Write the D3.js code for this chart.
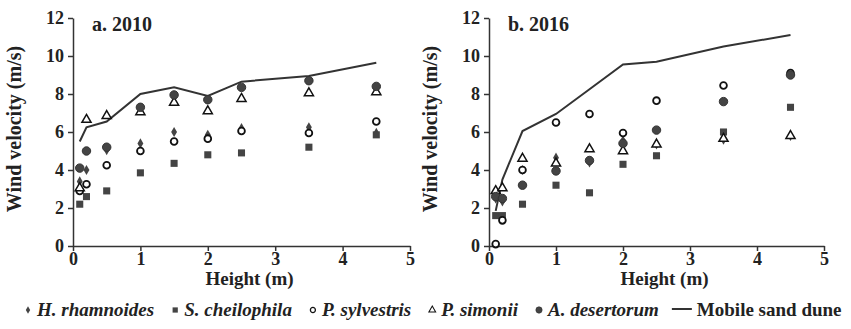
<!DOCTYPE html>
<html>
<head>
<meta charset="utf-8">
<script src="https://cdn.jsdelivr.net/npm/d3@7"></script>
<style>
  body { margin: 0; background: #fff; }
</style>
</head>
<body>
<figure id="chart" style="margin:0"></figure>
<script>
// heights where wind speed was measured (m)
const heights = [0.1, 0.2, 0.5, 1, 1.5, 2, 2.5, 3.5, 4.5];

// a. 2010
const rhamnoides2010 = [3.4, 4.0, 5.05, 5.4, 6.0, 5.85, 6.2, 6.25, 5.95];
const cheilophila2010 = [2.2, 2.6, 2.9, 3.85, 4.35, 4.8, 4.9, 5.2, 5.85];
const sylvestris2010 = [2.9, 3.25, 4.25, 5.0, 5.5, 5.65, 6.05, 5.95, 6.55];
const simonii2010 = [3.05, 6.65, 6.85, 7.05, 7.55, 7.1, 7.75, 8.05, 8.1];
const desertorum2010 = [4.1, 5.0, 5.2, 7.3, 7.95, 7.7, 8.35, 8.7, 8.4];
const dune2010 = [5.5, 6.25, 6.55, 8.0, 8.35, 7.9, 8.65, 8.95, 9.65];

// b. 2016
const rhamnoides2016 = [2.5, 2.35, 4.0, 4.65, 4.4, 5.55, 5.35, 5.6, 5.8];
const cheilophila2016 = [1.6, 1.6, 2.2, 3.2, 2.8, 4.3, 4.75, 6.0, 7.3];
const sylvestris2016 = [0.1, 1.35, 4.0, 6.5, 6.95, 5.95, 7.65, 8.45, 9.1];
const simonii2016 = [2.9, 3.05, 4.6, 4.35, 5.1, 5.0, 5.35, 5.65, 5.8];
const desertorum2016 = [2.6, 2.5, 3.2, 3.95, 4.5, 5.4, 6.1, 7.6, 9.0];
const dune2016 = [1.85, 3.5, 6.05, 6.95, 8.25, 9.55, 9.7, 10.5, 11.1];

const xTicks = [0, 1, 2, 3, 4, 5];
const yTicks = [0, 2, 4, 6, 8, 10, 12];
const speciesNames = ['H. rhamnoides', 'S. cheilophila', 'P. sylvestris', 'P. simonii', 'A. desertorum'];
const duneName = 'Mobile sand dune';

const width = 851;
const height = 329;
const gray = '#444';
const font = '"Liberation Serif", "Times New Roman", Times, "DejaVu Serif", serif';

const panels = [
  { title: 'a. 2010', left: 73, right: 410, series: [rhamnoides2010, cheilophila2010, sylvestris2010, simonii2010, desertorum2010], dune: dune2010 },
  { title: 'b. 2016', left: 489, right: 824, series: [rhamnoides2016, cheilophila2016, sylvestris2016, simonii2016, desertorum2016], dune: dune2016 }
];

const symbols = [d3.symbolDiamond, d3.symbolSquare, d3.symbolCircle, d3.symbolTriangle, d3.symbolCircle];
const symbolSizes = [30, 50, 36, 36, 56];
const fills = [gray, gray, '#fff', '#fff', gray];
const strokes = ['none', 'none', '#111', '#111', '#333'];
const strokeWidths = [0, 0, 1.8, 1.5, 1];

const svg = d3.select('#chart')
  .append('svg')
  .attr('width', width)
  .attr('height', height)
  .style('font-family', font);

const y = d3.scaleLinear().domain([0, 12]).range([246, 18]);

function label(sel, size, weight) {
  sel.style('font-family', font)
    .style('font-size', size + 'px')
    .style('font-weight', weight)
    .attr('fill', '#222');
}

panels.forEach(p => {
  const x = d3.scaleLinear().domain([0, 5]).range([p.left, p.right]);
  const g = svg.append('g');

  // axes
  const yAxis = g.append('g')
    .attr('transform', 'translate(' + p.left + ',0)')
    .call(d3.axisLeft(y).tickValues(yTicks).tickFormat(d3.format('d')).tickSize(5).tickSizeOuter(0));
  const xAxis = g.append('g')
    .attr('transform', 'translate(0,' + y(0) + ')')
    .call(d3.axisBottom(x).tickValues(xTicks).tickFormat(d3.format('d')).tickSize(5).tickSizeOuter(0));

  [xAxis, yAxis].forEach(a => {
    a.attr('font-family', null);
    a.select('.domain').attr('stroke', '#333').attr('stroke-width', 1.5);
    a.selectAll('.tick line').attr('stroke', '#333').attr('stroke-width', 1.5);
    a.selectAll('.tick text').call(label, 18, 'bold');
  });
  yAxis.selectAll('.tick text').attr('x', -9);
  xAxis.selectAll('.tick text').attr('y', 6);

  // axis titles
  g.append('text')
    .attr('transform', 'translate(' + (p.left - 52) + ',' + 129 + ') rotate(-90)')
    .attr('text-anchor', 'middle')
    .call(label, 20, 'bold')
    .text('Wind velocity (m/s)');

  g.append('text')
    .attr('x', (p.left + p.right) / 2 + 8)
    .attr('y', 285)
    .attr('text-anchor', 'middle')
    .call(label, 19, 'bold')
    .text('Height (m)');

  g.append('text')
    .attr('x', p.left + 19)
    .attr('y', 31)
    .call(label, 20, 'bold')
    .text(p.title);

  // mobile sand dune line
  const line = d3.line()
    .x((d, i) => x(heights[i]))
    .y(d => y(d));
  g.append('path')
    .datum(p.dune)
    .attr('fill', 'none')
    .attr('stroke', '#333')
    .attr('stroke-width', 2)
    .attr('d', line);

  // species markers
  p.series.forEach((values, k) => {
    g.append('g')
      .selectAll('path')
      .data(values)
      .enter()
      .append('path')
      .attr('d', d3.symbol().type(symbols[k]).size(symbolSizes[k]))
      .attr('transform', (d, i) => 'translate(' + x(heights[i]) + ',' + y(d) + ')')
      .attr('fill', fills[k])
      .attr('stroke', strokes[k])
      .attr('stroke-width', strokeWidths[k]);
  });
});

// legend
const legend = svg.append('g').attr('transform', 'translate(0,316)');
let cursor = 28;
speciesNames.forEach((name, k) => {
  legend.append('path')
    .attr('d', d3.symbol().type(symbols[k]).size(symbolSizes[k] * 0.55))
    .attr('transform', 'translate(' + cursor + ',-6)')
    .attr('fill', fills[k])
    .attr('stroke', strokes[k])
    .attr('stroke-width', strokeWidths[k] * 0.7);
  const t = legend.append('text')
    .attr('x', cursor + 9)
    .attr('y', 0)
    .call(label, 19, 'bold')
    .style('font-style', 'italic')
    .text(name);
  cursor += 9 + t.node().getComputedTextLength() + 21;
});
legend.append('line')
  .attr('x1', cursor - 8).attr('x2', cursor + 12)
  .attr('y1', -7).attr('y2', -7)
  .attr('stroke', '#333').attr('stroke-width', 2);
legend.append('text')
  .attr('x', cursor + 17)
  .attr('y', 0)
  .call(label, 19, 'bold')
  .text(duneName);
</script>
</body>
</html>
